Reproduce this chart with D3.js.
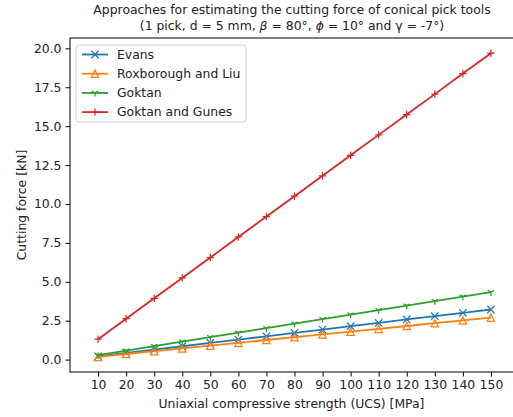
<!DOCTYPE html>
<html>
<head>
<meta charset="utf-8">
<script src="https://cdn.jsdelivr.net/npm/d3@7"></script>
<style>
  body { margin: 0; background: #fff; }
  svg { font-family: "DejaVu Sans", sans-serif; }
</style>
</head>
<body>
<svg id="chart" width="513" height="417"></svg>
<script>
// data
const ucs = [10, 20, 30, 40, 50, 60, 70, 80, 90, 100, 110, 120, 130, 140, 150];
const evans = [0.21, 0.43, 0.64, 0.86, 1.07, 1.29, 1.50, 1.72, 1.93, 2.15, 2.36, 2.58, 2.79, 3.01, 3.22];
const roxborough = [0.18, 0.36, 0.54, 0.72, 0.90, 1.08, 1.26, 1.44, 1.62, 1.80, 1.98, 2.16, 2.34, 2.52, 2.70];
const goktan = [0.29, 0.58, 0.87, 1.16, 1.45, 1.73, 2.02, 2.31, 2.60, 2.89, 3.18, 3.47, 3.76, 4.05, 4.33];
const goktanGunes = [1.31, 2.63, 3.94, 5.25, 6.56, 7.88, 9.19, 10.50, 11.81, 13.13, 14.44, 15.75, 17.06, 18.38, 19.69];
const seriesNames = ["Evans", "Roxborough and Liu", "Goktan", "Goktan and Gunes"];
const xTicks = [10, 20, 30, 40, 50, 60, 70, 80, 90, 100, 110, 120, 130, 140, 150];
const yTicks = [0, 2.5, 5, 7.5, 10, 12.5, 15, 17.5, 20];

const series = [
  { name: seriesNames[0], values: evans, color: "#1f77b4", marker: "x" },
  { name: seriesNames[1], values: roxborough, color: "#ff7f0e", marker: "^" },
  { name: seriesNames[2], values: goktan, color: "#2ca02c", marker: "1" },
  { name: seriesNames[3], values: goktanGunes, color: "#d62728", marker: "+" },
];

const svg = d3.select("#chart");
const mLeft = 70, mRight = 519, mTop = 38, mBottom = 372;
const fs = 12.4;

// y limits with matplotlib-like 5% margins
const allVals = series.flatMap(s => s.values);
const yMin = d3.min(allVals), yMax = d3.max(allVals);
const pad = (yMax - yMin) * 0.05;

const x = d3.scaleLinear().domain([0, 160]).range([mLeft, mRight]);
const y = d3.scaleLinear().domain([yMin - pad, yMax + pad]).range([mBottom, mTop]);

// markers
const ms = 3.7;
function markerPath(type) {
  const p = d3.path();
  if (type === "x") {
    p.moveTo(-ms, -ms); p.lineTo(ms, ms);
    p.moveTo(-ms, ms); p.lineTo(ms, -ms);
  } else if (type === "+") {
    p.moveTo(-ms, 0); p.lineTo(ms, 0);
    p.moveTo(0, -ms); p.lineTo(0, ms);
  } else if (type === "^") {
    p.moveTo(0, -ms); p.lineTo(-ms, ms); p.lineTo(ms, ms); p.closePath();
  } else if (type === "1") {
    p.moveTo(0, 0); p.lineTo(0, ms);
    p.moveTo(0, 0); p.lineTo(-ms * 0.866, -ms * 0.5);
    p.moveTo(0, 0); p.lineTo(ms * 0.866, -ms * 0.5);
  }
  return p.toString();
}

// axes
const xAxis = svg.append("g")
  .attr("transform", `translate(0,${mBottom})`)
  .call(d3.axisBottom(x).tickValues(xTicks).tickSize(4.5).tickPadding(4));
const yAxis = svg.append("g")
  .attr("transform", `translate(${mLeft},0)`)
  .call(d3.axisLeft(y).tickValues(yTicks).tickFormat(d3.format(".1f")).tickSize(4.5).tickPadding(4));

[xAxis, yAxis].forEach(g => {
  g.select(".domain").remove();
  g.selectAll(".tick line").attr("stroke", "#000").attr("stroke-width", 1);
  g.selectAll(".tick text").attr("fill", "#222").style("font-size", fs + "px")
    .style("font-family", "DejaVu Sans");
});

// lines + markers
const line = d3.line().x((d, i) => x(ucs[i])).y(d => y(d));
series.forEach(s => {
  svg.append("path")
    .attr("d", line(s.values))
    .attr("fill", "none")
    .attr("stroke", s.color)
    .attr("stroke-width", 1.8);
  svg.append("g").selectAll("path")
    .data(s.values)
    .join("path")
    .attr("transform", (d, i) => `translate(${x(ucs[i])},${y(d)})`)
    .attr("d", markerPath(s.marker))
    .attr("fill", "none")
    .attr("stroke", s.color)
    .attr("stroke-width", 1.25);
});

// spines
svg.append("rect")
  .attr("x", mLeft).attr("y", mTop)
  .attr("width", mRight - mLeft).attr("height", mBottom - mTop)
  .attr("fill", "none").attr("stroke", "#000").attr("stroke-width", 1);

// legend
const lg = svg.append("g").attr("transform", "translate(76,45)");
lg.append("rect")
  .attr("width", 170).attr("height", 77).attr("rx", 3)
  .attr("fill", "#fff").attr("fill-opacity", 0.8)
  .attr("stroke", "#d0d0d0").attr("stroke-width", 1);
series.forEach((s, i) => {
  const yy = 9.5 + i * 19.2;
  lg.append("line").attr("x1", 6).attr("x2", 32).attr("y1", yy).attr("y2", yy)
    .attr("stroke", s.color).attr("stroke-width", 1.8);
  lg.append("path").attr("transform", `translate(19,${yy})`)
    .attr("d", markerPath(s.marker)).attr("fill", "none")
    .attr("stroke", s.color).attr("stroke-width", 1.25);
  lg.append("text").attr("x", 41).attr("y", yy).attr("dy", "0.35em")
    .style("font-size", fs + "px").attr("fill", "#222").text(s.name);
});

// labels
svg.append("text")
  .attr("x", (mLeft + 513) / 2).attr("y", 404).attr("dy", "0.35em")
  .attr("text-anchor", "middle").style("font-size", fs + "px").attr("fill", "#222")
  .text("Uniaxial compressive strength (UCS) [MPa]");
svg.append("text")
  .attr("transform", `translate(22,${(mTop + mBottom) / 2}) rotate(-90)`)
  .attr("dy", "0.35em")
  .attr("text-anchor", "middle").style("font-size", fs + "px").attr("fill", "#222")
  .text("Cutting force [kN]");

const title = svg.append("text")
  .attr("text-anchor", "middle").style("font-size", fs + "px").attr("fill", "#222");
title.append("tspan").attr("x", 292).attr("y", 10).attr("dy", "0.35em")
  .text("Approaches for estimating the cutting force of conical pick tools");
const t2 = title.append("tspan").attr("x", 292).attr("y", 25.7).attr("dy", "0.35em");
t2.append("tspan").text("(1 pick, d = 5 mm, ");
t2.append("tspan").style("font-style", "italic").text("β");
t2.append("tspan").text(" = 80°, ");
t2.append("tspan").style("font-style", "italic").text("ϕ");
t2.append("tspan").text(" = 10° and γ = -7°)");
</script>
</body>
</html>
